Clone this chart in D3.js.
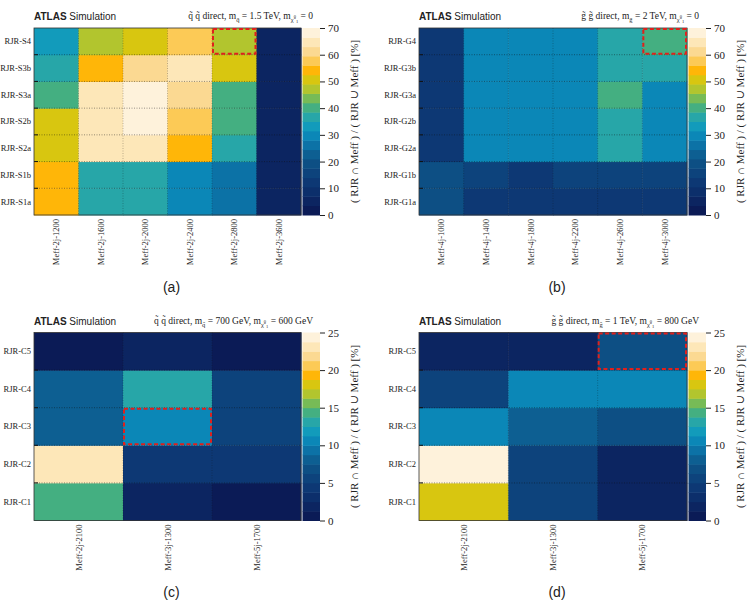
<!DOCTYPE html>
<html>
<head>
<meta charset="utf-8">
<script src="https://cdn.jsdelivr.net/npm/d3@7"></script>
<style>
  body { margin: 0; background: #fff; }
  text { font-family: "Liberation Serif", "DejaVu Serif", serif; fill: #222; }
</style>
</head>
<body>
<script>
// chart values (rows listed bottom -> top)
const rowsA = ["RJR-S1a", "RJR-S1b", "RJR-S2a", "RJR-S2b", "RJR-S3a", "RJR-S3b", "RJR-S4"];
const colsA = ["Meff-2j-1200", "Meff-2j-1600", "Meff-2j-2000", "Meff-2j-2400", "Meff-2j-2800", "Meff-2j-3600"];
const valuesA = [
  [55, 36, 36, 31, 27, 4],
  [55, 36, 36, 31, 27, 4],
  [51, 65, 66, 55, 36, 4],
  [51, 65, 68, 57, 41, 4],
  [41, 65, 68, 61, 41, 4],
  [36, 55, 61, 64, 50, 5],
  [32, 47, 49, 56, 48, 5],
];

const rowsB = ["RJR-G1a", "RJR-G1b", "RJR-G2a", "RJR-G2b", "RJR-G3a", "RJR-G3b", "RJR-G4"];
const colsB = ["Meff-4j-1000", "Meff-4j-1400", "Meff-4j-1800", "Meff-4j-2200", "Meff-4j-2600", "Meff-4j-3000"];
const valuesB = [
  [20, 13, 13, 13, 13, 13],
  [20, 14, 13, 14, 14, 14],
  [13, 31, 31, 31, 37, 31],
  [13, 30, 30, 30, 37, 31],
  [13, 29, 28, 29, 40, 31],
  [13, 28, 28, 29, 36, 36],
  [13, 29, 29, 29, 36, 39],
];

const rowsC = ["RJR-C1", "RJR-C2", "RJR-C3", "RJR-C4", "RJR-C5"];
const colsC = ["Meff-2j-2100", "Meff-3j-1300", "Meff-5j-1700"];
const valuesC = [
  [14.5, 1.5, 1],
  [22.5, 4, 4],
  [8, 10.5, 5],
  [8, 13, 6],
  [1, 1.5, 1],
];
const valuesD = [
  [17.5, 6, 1.5],
  [24, 5, 1.5],
  [10, 8, 7],
  [6, 10, 10.5],
  [1.5, 1.5, 7],
];

// palette stops (fraction of z range -> colour)
const paletteStops = [0, 0.1, 0.2, 0.3, 0.38, 0.45, 0.5, 0.55, 0.58, 0.63, 0.68, 0.72, 0.77, 0.82, 0.87, 0.93, 1];
const paletteColours = ["#0a1650", "#0c2a66", "#0d3d78", "#0d5588", "#0c74a8", "#0b92c0", "#1aa3b5", "#33a99a",
  "#48b07c", "#7cbc52", "#b8c62a", "#d4c812", "#ffb400", "#fcc850", "#fbd88e", "#fde8bc", "#fff8ec"];
const N_LEVELS = 20;

const W = 755, H = 609;
const palette = d3.scaleLinear().domain(paletteStops).range(paletteColours).interpolate(d3.interpolateRgb);

const svg = d3.select("body").append("svg").attr("width", W).attr("height", H);

const levelColour = (v, zmax) => {
  const lvl = Math.max(0, Math.min(N_LEVELS - 1, Math.floor(v / zmax * N_LEVELS)));
  return palette((lvl + 0.5) / N_LEVELS);
};

// header text with sub/superscripts: pieces = [text, dy, size]
const header = (g, x, y, pieces) => {
  const t = g.append("text").attr("x", x).attr("y", y).attr("text-anchor", "end").style("font-size", "9.5px");
  pieces.forEach(([s, dy, size]) => {
    t.append("tspan").attr("dy", dy).style("font-size", size + "px").text(s);
  });
};

const drawPanel = (p) => {
  const g = svg.append("g");
  const x = d3.scaleBand().domain(p.cols).range([p.x0, p.x1]);
  const y = d3.scaleBand().domain(p.rows).range([p.y1, p.y0]);

  const cells = [];
  p.values.forEach((row, i) => row.forEach((v, j) => cells.push({ r: p.rows[i], c: p.cols[j], v })));

  // cells
  g.selectAll(".cell")
    .data(cells)
    .enter()
    .append("rect")
    .attr("x", (d) => x(d.c))
    .attr("y", (d) => y(d.r))
    .attr("width", x.bandwidth() + 0.5)
    .attr("height", y.bandwidth() + 0.5)
    .attr("fill", (d) => levelColour(d.v, p.zmax));

  // dotted grid lines on cell borders
  p.rows.slice(1).forEach((r) => {
    g.append("line").attr("x1", p.x0).attr("x2", p.x1).attr("y1", y(r) + y.bandwidth()).attr("y2", y(r) + y.bandwidth())
      .attr("stroke", "#111").attr("stroke-opacity", 0.55).attr("stroke-width", 0.8).attr("stroke-dasharray", "1,1.5");
    g.append("line").attr("x1", p.x0).attr("x2", p.x0 + 4).attr("y1", y(r) + y.bandwidth()).attr("y2", y(r) + y.bandwidth())
      .attr("stroke", "#111").attr("stroke-width", 1);
  });
  p.cols.slice(1).forEach((c) => {
    g.append("line").attr("x1", x(c)).attr("x2", x(c)).attr("y1", p.y0).attr("y2", p.y1)
      .attr("stroke", "#111").attr("stroke-opacity", 0.35).attr("stroke-width", 0.8).attr("stroke-dasharray", "1,1.5");
  });

  // frame
  g.append("rect").attr("x", p.x0).attr("y", p.y0).attr("width", p.x1 - p.x0).attr("height", p.y1 - p.y0)
    .attr("fill", "none").attr("stroke", "#333").attr("stroke-width", 0.8);

  // highlighted cell
  g.append("rect")
    .attr("x", x(p.hl[1]) + 1).attr("y", y(p.hl[0]) + 1)
    .attr("width", x.bandwidth() - 2).attr("height", y.bandwidth() - 2)
    .attr("fill", "none").attr("stroke", "#e0201c").attr("stroke-width", 2).attr("stroke-dasharray", "4,2.5");

  // row labels
  g.selectAll(".rowlab").data(p.rows).enter().append("text")
    .attr("x", p.x0 - 3).attr("y", (d) => y(d) + y.bandwidth() / 2).attr("dy", "0.35em")
    .attr("text-anchor", "end").style("font-size", "8.5px").text((d) => d);

  // column labels (rotated)
  g.selectAll(".collab").data(p.cols).enter().append("text")
    .attr("transform", (d) => `translate(${x(d) + x.bandwidth() / 2 + 3},${p.y1 + 4})rotate(-90)`)
    .attr("text-anchor", "end").style("font-size", "8.5px").text((d) => d);

  // colour bar
  const bx0 = p.x1 + 1.5, bw = 17.5;
  const z = d3.scaleLinear().domain([0, p.zmax]).range([p.y1, p.y0]);
  const levels = d3.range(N_LEVELS);
  g.selectAll(".band").data(levels).enter().append("rect")
    .attr("x", bx0).attr("width", bw)
    .attr("y", (l) => z((l + 1) * p.zmax / N_LEVELS))
    .attr("height", (l) => z(l * p.zmax / N_LEVELS) - z((l + 1) * p.zmax / N_LEVELS) + 0.5)
    .attr("fill", (l) => palette((l + 0.5) / N_LEVELS));
  const axis = g.append("g").attr("transform", `translate(${bx0 + bw},0)`)
    .call(d3.axisRight(z).tickValues(p.zticks).tickSize(5).tickPadding(3));
  axis.select(".domain").remove();
  axis.selectAll("line").attr("stroke", "#222");
  axis.selectAll("text").style("font-size", "11px").style("font-family", "Liberation Serif").attr("fill", "#222");

  // z title
  g.append("text")
    .attr("transform", `translate(${p.x1 + 57},${(p.y0 + p.y1) / 2})rotate(-90)`)
    .attr("text-anchor", "middle").style("font-size", "11px")
    .text("( RJR \u2229 Meff ) / ( RJR \u222A Meff ) [%]");

  // ATLAS label
  const at = g.append("text").attr("x", p.x0).attr("y", p.y0 - 8)
    .style("font-family", "Liberation Sans, Arial, sans-serif").style("font-size", "10px");
  at.append("tspan").style("font-weight", "bold").text("ATLAS");
  at.append("tspan").text(" Simulation");

  header(g, p.x1 + 12, p.y0 - 9, p.head);

  // caption
  g.append("text").attr("x", (p.x0 + p.x1) / 2 + 4).attr("y", p.cap).attr("text-anchor", "middle")
    .style("font-family", "Liberation Sans, Arial, sans-serif").style("font-size", "14px").text(p.label);
};

// neutralino subscript: chi-tilde, then 0 raised and 1 lowered, then back to baseline
const chiTail = (rest) => [["\u03C7\u0303", 3, 6.5], ["0", -4, 4.5], ["1", 5, 4.5], [rest, -4, 9.5]];

drawPanel({
  rows: rowsA, cols: colsA, values: valuesA, zmax: 70, zticks: [0, 10, 20, 30, 40, 50, 60, 70],
  x0: 34, x1: 301, y0: 28, y1: 215, hl: ["RJR-S4", "Meff-2j-2800"], label: "(a)", cap: 292,
  head: [["q\u0303 q\u0303 direct, m", 0, 9.5], ["q\u0303", 3, 6.5], [" = 1.5 TeV, m", -3, 9.5]].concat(chiTail(" = 0")),
});
drawPanel({
  rows: rowsB, cols: colsB, values: valuesB, zmax: 70, zticks: [0, 10, 20, 30, 40, 50, 60, 70],
  x0: 419, x1: 687, y0: 28, y1: 215, hl: ["RJR-G4", "Meff-4j-3000"], label: "(b)", cap: 292,
  head: [["g\u0303 g\u0303 direct, m", 0, 9.5], ["g\u0303", 3, 6.5], [" = 2 TeV, m", -3, 9.5]].concat(chiTail(" = 0")),
});
drawPanel({
  rows: rowsC, cols: colsC, values: valuesC, zmax: 25, zticks: [0, 5, 10, 15, 20, 25],
  x0: 34, x1: 301, y0: 332.5, y1: 520.5, hl: ["RJR-C3", "Meff-3j-1300"], label: "(c)", cap: 597,
  head: [["q\u0303 q\u0303 direct, m", 0, 9.5], ["q\u0303", 3, 6.5], [" = 700 GeV, m", -3, 9.5]].concat(chiTail(" = 600 GeV")),
});
drawPanel({
  rows: rowsC, cols: colsC, values: valuesD, zmax: 25, zticks: [0, 5, 10, 15, 20, 25],
  x0: 419, x1: 687, y0: 332.5, y1: 520.5, hl: ["RJR-C5", "Meff-5j-1700"], label: "(d)", cap: 597,
  head: [["g\u0303 g\u0303 direct, m", 0, 9.5], ["g\u0303", 3, 6.5], [" = 1 TeV, m", -3, 9.5]].concat(chiTail(" = 800 GeV")),
});
</script>
</body>
</html>
